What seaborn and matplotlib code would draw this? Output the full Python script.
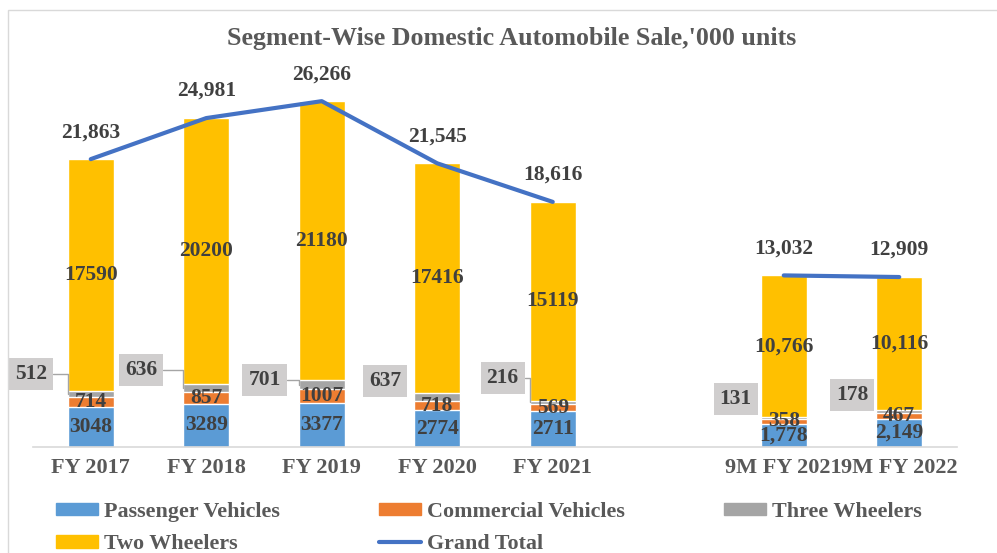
import numpy as np
import pandas as pd
import seaborn as sns
import matplotlib.pyplot as plt
from matplotlib.patches import Patch, Rectangle
from matplotlib.lines import Line2D

# values in '000 units, the blank category keeps the gap between the two groups
categories = ["FY 2017", "FY 2018", "FY 2019", "FY 2020", "FY 2021", " ", "9M FY 2021", "9M FY 2022"]
passenger = [3048, 3289, 3377, 2774, 2711, np.nan, 1778, 2149]
commercial = [714, 857, 1007, 718, 569, np.nan, 358, 467]
three_wheelers = [512, 636, 701, 637, 216, np.nan, 131, 178]
two_wheelers = [17590, 20200, 21180, 17416, 15119, np.nan, 10766, 10116]
grand_total = [21863, 24981, 26266, 21545, 18616, np.nan, 13032, 12909]

# callout box offsets (pixels) for the three wheeler labels, and whether a leader line is drawn
callout_offsets = [(-37, 20), (-42, 18), (-34, 5), (-29, 16), (-27, 24), None, (-25, 19), (-24, 16)]
callout_leader = [True, True, True, False, True, False, False, False]

c_pv = "#5B9BD5"
c_cv = "#ED7D31"
c_3w = "#A5A5A5"
c_2w = "#FFC000"
c_line = "#4472C4"
c_text = "#404040"
c_axis = "#595959"

sns.set_theme(style="white")
plt.rcParams["font.family"] = ["Liberation Serif", "DejaVu Serif"]
plt.rcParams["font.weight"] = "bold"

df = pd.DataFrame({
    "category": categories,
    "passenger": passenger,
    "commercial": commercial,
    "three_wheelers": three_wheelers,
    "two_wheelers": two_wheelers,
    "total": grand_total,
})
df["pos"] = np.arange(len(df))
df["pv_top"] = df["passenger"]
df["cv_top"] = df["pv_top"] + df["commercial"]
df["tw3_top"] = df["cv_top"] + df["three_wheelers"]
df["tw2_top"] = df["tw3_top"] + df["two_wheelers"]
df["period"] = np.where(df["category"].str.startswith("9M"), "9M", "FY")
nine_month = df["category"].str.startswith("9M")

fig = plt.figure(figsize=(9.97, 5.53), dpi=100)
ax = fig.add_axes([33 / 997, 106 / 553, 924 / 997, 395 / 553])

# stacked bars: draw cumulative heights from the top layer down
for col, color in [("tw2_top", c_2w), ("tw3_top", c_3w), ("cv_top", c_cv), ("pv_top", c_pv)]:
    sns.barplot(data=df, x="category", y=col, order=categories, color=color,
                saturation=1, width=0.4, errorbar=None, ax=ax)

sns.lineplot(data=df.dropna(), x="pos", y="total", units="period", estimator=None,
             color=c_line, linewidth=3, legend=False, ax=ax, zorder=5,
             solid_capstyle="round")

lab = dict(ha="center", va="center", fontsize=15.5, color=c_text, fontweight="bold", zorder=6)
for i, row in df.iterrows():
    if np.isnan(row["total"]):
        continue
    fmt = "{:,.0f}" if nine_month[i] else "{:.0f}"
    ax.text(i, row["passenger"] / 2, fmt.format(row["passenger"]), **lab)
    ax.text(i, row["pv_top"] + row["commercial"] / 2, fmt.format(row["commercial"]), **lab)
    ax.text(i, row["tw3_top"] + row["two_wheelers"] / 2, fmt.format(row["two_wheelers"]), **lab)
    ax.annotate("{:,.0f}".format(row["total"]), (i, row["total"]), xytext=(0, 27),
                textcoords="offset pixels", **lab)
    dx, dy = callout_offsets[i]
    arrow = None
    if callout_leader[i]:
        arrow = dict(arrowstyle="-", color="#A5A5A5", lw=1,
                     connectionstyle="angle,angleA=0,angleB=90,rad=0", shrinkA=0, shrinkB=0)
    ax.annotate("{:.0f}".format(row["three_wheelers"]),
                (i - 0.2, row["cv_top"] + row["three_wheelers"] / 2),
                xytext=(dx, dy), textcoords="offset pixels", arrowprops=arrow,
                bbox=dict(boxstyle="square,pad=0.28", fc="#D0CECE", ec="none"), **lab)

ax.set_ylim(0, 30000)
ax.set_xlim(-0.5, len(categories) - 0.5)
ax.set_yticks([])
ax.set_xlabel("")
ax.set_ylabel("")
for side in ["left", "top", "right"]:
    ax.spines[side].set_visible(False)
ax.spines["bottom"].set_color("#D9D9D9")
ax.spines["bottom"].set_linewidth(1.2)
ax.tick_params(axis="x", length=0, pad=8, labelsize=16, labelcolor=c_axis)

fig.text(512 / 997, 1 - 38 / 553, "Segment-Wise Domestic Automobile Sale,'000 units",
         ha="center", va="center", fontsize=18.7, color=c_axis, fontweight="bold")

# legend fills column-first, so order the entries to read row by row
handles = [
    Patch(color=c_pv, label="Passenger Vehicles"),
    Patch(color=c_2w, label="Two Wheelers"),
    Patch(color=c_cv, label="Commercial Vehicles"),
    Line2D([], [], color=c_line, lw=3, label="Grand Total"),
    Patch(color=c_3w, label="Three Wheelers"),
]
fig.legend(handles=handles, loc="upper left", bbox_to_anchor=(56 / 997, 1 - 502 / 553),
           ncol=3, frameon=False, fontsize=15.8, labelcolor=c_axis, borderpad=0,
           borderaxespad=0, handlelength=1.9, handleheight=0.5, handletextpad=0.3,
           columnspacing=4.5, labelspacing=0.55)

fig.patches.append(Rectangle((8 / 997, -0.5), 2, 1.5 - 10 / 553, transform=fig.transFigure,
                             fill=False, ec="#D9D9D9", lw=1))

fig.savefig("out.png", dpi=100)
